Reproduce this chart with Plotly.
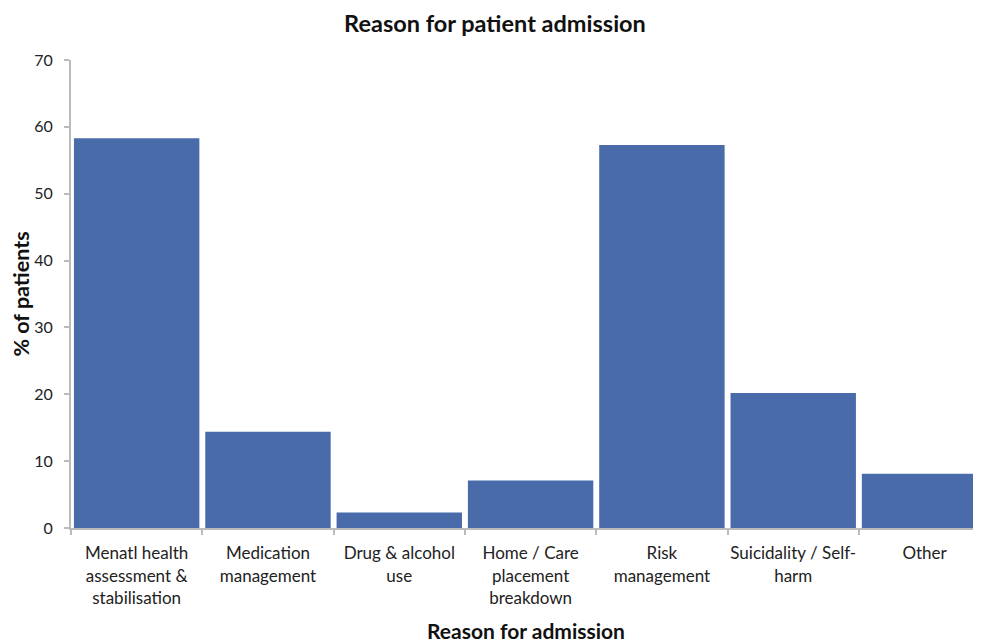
import plotly.graph_objects as go

categories = [
    "Menatl health<br>assessment &<br>stabilisation",
    "Medication<br>management",
    "Drug & alcohol<br>use",
    "Home / Care<br>placement<br>breakdown",
    "Risk<br>management",
    "Suicidality / Self-<br>harm",
    "Other",
]
values = [58.3, 14.4, 2.3, 7.1, 57.3, 20.2, 8.1]
y_ticks = [0, 10, 20, 30, 40, 50, 60, 70]

FONT = "Lato, Open Sans, sans-serif"

fig = go.Figure(go.Bar(
    x=categories,
    y=values,
    marker=dict(color="#4A6BA9", line=dict(width=0)),
))

# page body has an 8px default margin; figure is sized to compensate
fig.update_layout(
    width=973, height=635,
    margin=dict(l=63, r=0, t=52, b=115),
    plot_bgcolor="white", paper_bgcolor="white",
    bargap=0.045,
    showlegend=False,
    title=dict(text="<b>Reason for patient admission</b>", x=0.5005, xanchor="center",
               y=0.9745, yanchor="middle", font=dict(family=FONT, size=23.5, color="#111")),
    font=dict(family=FONT, size=17, color="#222"),
)

fig.update_xaxes(
    range=[-0.5, 6.43], automargin=False,
    showline=True, linecolor="#BBBBBB", linewidth=2,
    ticks="outside", tickson="boundaries", ticklen=5, tickcolor="#BBBBBB", tickwidth=2,
    showgrid=False, tickangle=0,
    ticklabelstandoff=9,
    tickfont=dict(family=FONT, size=17, color="#222"),
    title=dict(text="<b>Reason for admission</b>", font=dict(family=FONT, size=21, color="#111"), standoff=25),
)
fig.update_yaxes(
    range=[0, 70], tickvals=y_ticks, automargin=False,
    showline=True, linecolor="#BBBBBB", linewidth=2,
    ticks="outside", ticklen=5, tickcolor="#BBBBBB", tickwidth=2,
    showgrid=False, zeroline=False,
    ticklabelstandoff=8,
    tickfont=dict(family=FONT, size=16, color="#222"),
    title=dict(text="<b>% of patients</b>", font=dict(family=FONT, size=21.5, color="#111"), standoff=8),
)

fig.write_html("out.html")
